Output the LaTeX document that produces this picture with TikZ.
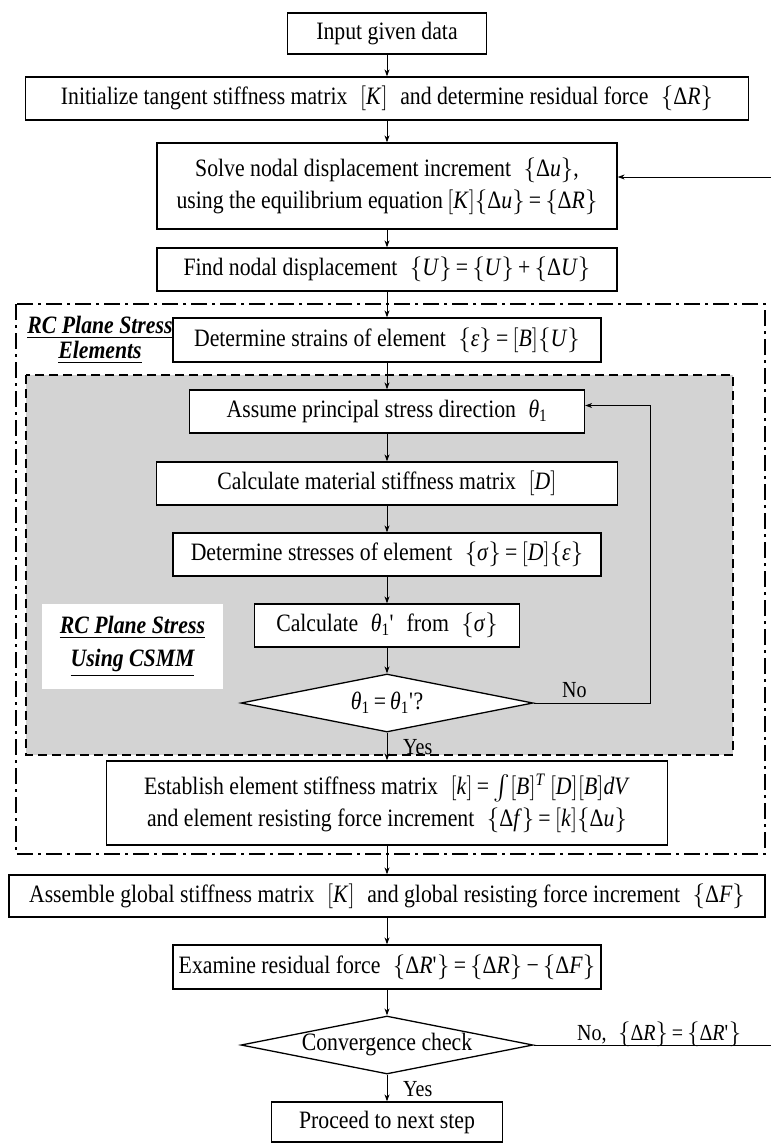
\documentclass[tikz,border=0pt]{standalone}
\usepackage{amsmath}
\usepackage{fontspec}
\setmainfont{Liberation Serif}[FakeStretch=0.87]
\usetikzlibrary{arrows.meta,shapes.geometric}
\definecolor{grayfill}{RGB}{211,211,211}
\newcommand\Lbr{$\{$}
\newcommand\Rbr{$\}$}
\newcommand\Lsq{$[$}
\newcommand\Rsq{$]$}
\newcommand\vi[1]{\textit{#1}}
\newcommand\thone{\textit{θ}\textsubscript{1}}
\newcommand\prm{\textquotesingle}
\tikzset{
  box/.style={draw, line width=1.3pt, fill=white, inner sep=0pt, align=center,
    font=\fontsize{25}{32}\selectfont},
  dia/.style={draw, diamond, line width=1.3pt, fill=white, inner sep=0pt, aspect=5,
    font=\fontsize{25}{32}\selectfont},
  arr/.style={line width=0.9pt, -{Stealth[length=7pt,width=5pt]}},
  conn/.style={line width=0.9pt},
  lbl/.style={inner sep=0pt, font=\fontsize{23}{28}\selectfont},
  grplbl/.style={inner sep=0pt, align=center},
}
\begin{document}
\begin{tikzpicture}[x=1pt,y=-1pt]
\useasboundingbox (0,0) rectangle (771,1144);
% group frames
\draw[line width=2.6pt, dash pattern=on 16pt off 5pt on 3pt off 5pt] (16,304) rectangle (765,854);
\draw[line width=2.6pt, fill=grayfill, dash pattern=on 9pt off 5pt] (26,375) rectangle (733,755);
\node[fill=white, minimum width=181pt, minimum height=85pt, inner sep=0pt] (csmmbox) at (132.5,646.5) {};
\node[grplbl, font=\fontsize{25}{33}\selectfont\bfseries\itshape] (csmm) at (132.5,646.5) {\underline{RC Plane Stress}\\\underline{Using CSMM}};
\node[grplbl, font=\fontsize{25}{25}\selectfont\bfseries\itshape] (elem) at (100,340) {\underline{RC Plane Stress}\\\underline{Elements}};

% nodes
\node[box, minimum width=199pt, minimum height=41pt] (inp) at (387,33.5) {Input given data};
\node[box, minimum width=723pt, minimum height=43pt] (init) at (387,98.5) {Initialize tangent stiffness matrix\enspace\Lsq\vi{K}\Rsq\enspace and determine residual force\enspace\Lbr Δ\vi{R}\Rbr};
\node[box, minimum width=460pt, minimum height=86pt] (solve) at (387,186) {Solve nodal displacement increment\enspace\Lbr Δ\vi{u}\Rbr,\\using the equilibrium equation\,\Lsq\vi{K}\Rsq\Lbr Δ\vi{u}\Rbr\,=\,\Lbr Δ\vi{R}\Rbr};
\node[box, minimum width=460pt, minimum height=43pt] (find) at (387,269.5) {Find nodal displacement\enspace\Lbr\vi{U}\Rbr\,=\,\Lbr\vi{U}\Rbr\,+\,\Lbr Δ\vi{U}\Rbr};
\node[box, minimum width=428pt, minimum height=44pt] (strain) at (387,340) {Determine strains of element\enspace\Lbr\vi{ε}\Rbr\,=\,\Lsq\vi{B}\Rsq\Lbr\vi{U}\Rbr};
\node[box, minimum width=395pt, minimum height=43pt] (assume) at (387,411.5) {Assume principal stress direction\enspace\thone};
\node[box, minimum width=461pt, minimum height=43pt] (calcd) at (387,483.5) {Calculate material stiffness matrix\enspace\Lsq\vi{D}\Rsq};
\node[box, minimum width=428pt, minimum height=43pt] (stress) at (387,554.5) {Determine stresses of element\enspace\Lbr\vi{σ}\Rbr\,=\,\Lsq\vi{D}\Rsq\Lbr\vi{ε}\Rbr};
\node[box, minimum width=265pt, minimum height=43pt] (calct) at (387,625.5) {Calculate\enspace\thone\prm\enspace from\enspace\Lbr\vi{σ}\Rbr};
\node[dia, minimum width=292pt, minimum height=58pt] (dia1) at (387,703) {\raisebox{-4pt}{\thone\,=\,\thone\prm?}};
\node[box, minimum width=561pt, minimum height=84pt] (estab) at (387,803) {Establish element stiffness matrix\enspace\Lsq\vi{k}\Rsq\,=\,$\int$\Lsq\vi{B}\Rsq\textsuperscript{\vi{T}}\,\Lsq\vi{D}\Rsq\Lsq\vi{B}\Rsq\vi{dV}\\and element resisting force increment\enspace\Lbr Δ\vi{f}\Rbr\,=\,\Lsq\vi{k}\Rsq\Lbr Δ\vi{u}\Rbr};
\node[box, minimum width=756pt, minimum height=42pt] (assem) at (387,896) {Assemble global stiffness matrix\enspace\Lsq\vi{K}\Rsq\enspace and global resisting force increment\enspace\Lbr Δ\vi{F}\Rbr};
\node[box, minimum width=428pt, minimum height=44pt] (exam) at (387,967) {Examine residual force\enspace\Lbr Δ\vi{R}\prm\Rbr\,=\,\Lbr Δ\vi{R}\Rbr\,−\,\Lbr Δ\vi{F}\Rbr};
\node[dia, minimum width=292pt, minimum height=58pt] (dia2) at (387,1045) {Convergence check};
\node[box, minimum width=231pt, minimum height=40pt] (proc) at (387,1122) {Proceed to next step};

% free ends at the right border
\coordinate (r1) at (771,177);
\coordinate (r2) at (771,1045);
\coordinate (k1) at (650,703);

% connectors
\draw[arr] (inp) -- (init);
\draw[arr] (init) -- (solve);
\draw[arr] (solve) -- (find);
\draw[arr] (find) -- (strain);
\draw[arr] (strain) -- (assume);
\draw[arr] (assume) -- (calcd);
\draw[arr] (calcd) -- (stress);
\draw[arr] (stress) -- (calct);
\draw[arr] (calct) -- (dia1);
\draw[arr] (dia1) -- (estab);
\draw[arr] (estab) -- (assem);
\draw[arr] (assem) -- (exam);
\draw[arr] (exam) -- (dia2);
\draw[arr] (dia2) -- (proc);
\draw[arr] (dia1.east) -- (k1) |- ([yshift=6pt]assume.east);
\draw[conn] (dia2.east) -- (r2);
\draw[arr] (r1) -- (solve.east |- r1);

% labels
\node[lbl, anchor=west] (no1) at (562,690) {No};
\node[lbl, anchor=west] (yes1) at (403,747) {Yes};
\node[lbl, anchor=west] (yes2) at (403,1089) {Yes};
\node[lbl, anchor=west] (no2) at (577,1034) {No,\enspace\Lbr Δ\vi{R}\Rbr\,=\,\Lbr Δ\vi{R}\prm\Rbr};
\end{tikzpicture}
\end{document}
